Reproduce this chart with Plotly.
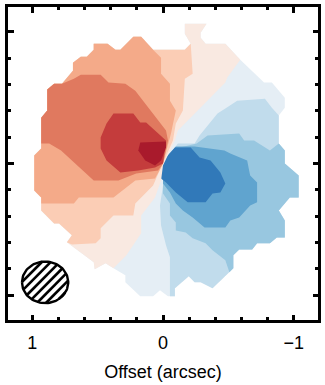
import numpy as np
import plotly.graph_objects as go

# Outer edge of the mapped emission, offsets in arcsec (clockwise from the top)
outline_x = [-0.167,-0.333,-0.288,-0.288,-0.326,-0.477,-0.591,-0.773,-0.833,-0.932,-0.932,-0.886,-0.886,-0.932,-0.932,-1.038,-1.038,-0.970,-0.886,-0.932,-0.932,-0.871,-0.818,-0.720,-0.682,-0.583,-0.538,-0.538,-0.379,-0.288,-0.242,-0.197,-0.091,-0.091,-0.038,0.023,0.076,0.174,0.288,0.288,0.379,0.439,0.523,0.530,0.735,0.697,0.795,0.833,0.932,0.932,0.985,0.985,0.932,0.932,0.886,0.886,0.833,0.773,0.689,0.689,0.629,0.583,0.530,0.530,0.424,0.364,0.326,0.227,0.167,0.076,-0.167,-0.212,-0.167]
outline_y = [1.061,1.061,0.992,0.955,0.909,0.909,0.788,0.614,0.614,0.5,0.424,0.364,0.152,0.098,0,-0.091,-0.258,-0.258,-0.356,-0.432,-0.561,-0.561,-0.606,-0.606,-0.652,-0.652,-0.697,-0.795,-0.947,-0.902,-0.902,-0.856,-0.947,-1.008,-1.008,-0.962,-1.008,-1.008,-0.902,-0.848,-0.795,-0.758,-0.803,-0.75,-0.598,-0.545,-0.455,-0.455,-0.356,-0.258,-0.205,0.061,0.114,0.348,0.402,0.561,0.606,0.606,0.705,0.765,0.811,0.811,0.864,0.909,0.909,0.864,0.864,0.962,0.962,0.864,0.864,0.909,0.985]

# Contour edges inside the map, offsets in arcsec
b1_x = [-0.053,-0.053,-0.023,0.015,0.023,0,0,-0.114,-0.242,-0.280,-0.417,-0.477,-0.568,-0.780,-0.833]
b1_y = [-1.008,-0.712,-0.621,-0.470,-0.318,-0.167,0,0.152,0.152,0.212,0.379,0.417,0.477,0.492,0.424]
b2_x = [-0.508,-0.477,-0.379,-0.326,-0.227,-0.174,-0.098,-0.098,-0.053,-0.053,0,0,-0.129,-0.258,-0.341,-0.583,-0.621,-0.697,-0.818]
b2_y = [-0.826,-0.735,-0.659,-0.606,-0.568,-0.523,-0.508,-0.447,-0.394,-0.303,-0.227,0,0.121,0.152,0.212,0.227,0.174,0.174,0.098]
b3_x = [0,-0.098,-0.242,-0.470,-0.515,-0.644,-0.659,-0.667,-0.720,-0.720,-0.667,-0.583,-0.515,-0.477,-0.318,-0.227,-0.152,-0.098,-0.053,0]
b3_y = [0,0.129,0.129,0.098,0.076,0.023,-0.053,-0.091,-0.144,-0.295,-0.318,-0.409,-0.432,-0.485,-0.485,-0.409,-0.356,-0.303,-0.220,-0.152]
b4_x = [0,-0.091,-0.212,-0.280,-0.364,-0.439,-0.477,-0.439,-0.379,-0.326,-0.189,-0.098,-0.023,0.015,0.015]
b4_y = [0.023,0.121,0.121,0.045,0.023,-0.068,-0.152,-0.220,-0.227,-0.295,-0.295,-0.220,-0.144,-0.114,-0.053]
r0_x = [-0.492,-0.477,-0.114,-0.091,0,0.015,0.061,0.167,0.167,0.280]
r0_y = [0.652,0.614,0.25,0.174,-0.015,-0.129,-0.258,-0.394,-0.530,-0.697]
r1_x = [-0.227,-0.167,-0.152,-0.098,-0.076,0,0.023,0.076,0.212,0.227,0.379,0.477,0.477,0.515,0.697]
r1_y = [0.682,0.644,0.402,0.303,0.174,0,-0.053,-0.167,-0.303,-0.394,-0.394,-0.492,-0.568,-0.606,-0.614]
r2_x = [0.015,0.015,-0.053,-0.053,-0.098,-0.061,0,0.015,0.061,0.212,0.379,0.644,0.682,0.932]
r2_y = [0.803,0.682,0.606,0.477,0.402,0.227,0,-0.030,-0.114,-0.129,-0.258,-0.258,-0.303,-0.303]
r3_x = [0.682,0.629,0.477,0.417,0.288,0.212,-0.023,-0.038,0,0.038,0.205,0.341,0.530,0.697,0.780,0.871,0.932]
r3_y = [0.644,0.674,0.674,0.614,0.606,0.553,0.25,0.174,0,-0.053,-0.076,-0.129,-0.129,0.023,0.098,0.152,0.152]
r4_x = [0.379,0.227,0.174,0.129,-0.023,0,0.061,0.189,0.326,0.432,0.477,0.477,0.432]
r4_y = [0.379,0.379,0.311,0.311,0.174,0,-0.030,-0.053,-0.068,0.023,0.114,0.197,0.303]
r5_x = [0.174,-0.023,-0.023,0.015,0.061,0.136,0.189]
r5_y = [0.159,0.167,0.121,0.023,-0.015,0.023,0.098]

# Contour colours
colour_b0 = "#e5eef5"
colour_b1 = "#c1dcec"
colour_b2 = "#98c7e0"
colour_b3 = "#60a4cf"
colour_b4 = "#3179b9"
colour_r0 = "#f9e9e1"
colour_r1 = "#fbcdb5"
colour_r2 = "#f4aa89"
colour_r3 = "#e0795f"
colour_r4 = "#c43c3c"
colour_r5 = "#a91a2c"

# Synthesised beam
beam_x, beam_y = 0.902, -0.902
beam_major, beam_minor = 0.177, 0.158

x_ticks = [1, 0, -1]
x_labels = ["1", "0", "\u22121"]


def edge(first, last, xs, ys):
    """Part of the outer edge joined to an inner contour edge."""
    if first <= last:
        ox = outline_x[first:last + 1]
        oy = outline_y[first:last + 1]
    else:
        ox = outline_x[first:] + outline_x[:last + 1]
        oy = outline_y[first:] + outline_y[:last + 1]
    return ox + xs, oy + ys


fig = go.Figure()


def region(xs, ys, colour):
    fig.add_trace(go.Scatter(x=xs, y=ys, mode="lines", fill="toself",
                             fillcolor=colour, line=dict(width=0, color=colour),
                             hoverinfo="skip", showlegend=False))


region(outline_x, outline_y, colour_b0)
region(*edge(11, 33, b1_x, b1_y), colour_b1)
region(*edge(12, 27, b2_x, b2_y), colour_b2)
region(b3_x, b3_y, colour_b3)
region(b4_x, b4_y, colour_b4)
region(*edge(40, 6, r0_x, r0_y), colour_r0)
region(*edge(44, 71, r1_x, r1_y), colour_r1)
region(*edge(49, 69, r2_x, r2_y), colour_r2)
region(*edge(53, 57, r3_x, r3_y), colour_r3)
region(r4_x, r4_y, colour_r4)
region(r5_x, r5_y, colour_r5)

# Beam outline and its hatching (chords of the ellipse)
t = np.linspace(0, 2 * np.pi, 90)
ex = beam_x + beam_major * np.cos(t)
ey = beam_y + beam_minor * np.sin(t)
hx, hy = [], []
for c in np.arange(-0.30, 0.301, 0.0685):
    s = np.linspace(-0.3, 0.3, 601)
    px, py = beam_x - s, beam_y + s + c
    inside = ((px - beam_x) / beam_major) ** 2 + ((py - beam_y) / beam_minor) ** 2 <= 1
    if inside.any():
        hx += [px[inside][0], px[inside][-1], None]
        hy += [py[inside][0], py[inside][-1], None]
fig.add_trace(go.Scatter(x=ex, y=ey, mode="lines", fill="toself", fillcolor="white",
                         line=dict(width=0), hoverinfo="skip", showlegend=False))
fig.add_trace(go.Scatter(x=hx, y=hy, mode="lines", line=dict(color="black", width=2.6),
                         hoverinfo="skip", showlegend=False))
fig.add_trace(go.Scatter(x=ex, y=ey, mode="lines", line=dict(color="black", width=2.4),
                         hoverinfo="skip", showlegend=False))

fig.update_xaxes(range=[1.186, -1.186], tickvals=x_ticks, ticktext=x_labels,
                 ticks="inside", ticklen=5.5, tickwidth=3, tickcolor="black",
                 mirror="allticks", showline=True, linecolor="black", linewidth=3,
                 showgrid=False, zeroline=False, ticklabelstandoff=4,
                 tickfont=dict(family="Liberation Sans", size=18, color="black"),
                 title=dict(text="Offset (arcsec)", standoff=14,
                            font=dict(family="Liberation Sans", size=18, color="black")),
                 minor=dict(dtick=0.2, ticks="inside", ticklen=3, tickwidth=2.5,
                            tickcolor="black", showgrid=False, tick0=0))
fig.update_yaxes(range=[-1.188, 1.188], tickvals=[-1, 0, 1], showticklabels=False,
                 ticks="inside", ticklen=5.5, tickwidth=3, tickcolor="black",
                 mirror="allticks", showline=True, linecolor="black", linewidth=3,
                 showgrid=False, zeroline=False,
                 minor=dict(dtick=0.2, ticks="inside", ticklen=3, tickwidth=2.5,
                            tickcolor="black", showgrid=False, tick0=0))
fig.update_layout(width=325, height=385, margin=dict(l=8, r=4, t=6.5, b=65),
                  plot_bgcolor="white", paper_bgcolor="white", showlegend=False)
fig.write_html("out.html", config=dict(displayModeBar=False),
               post_script="document.body.style.margin='0';document.body.style.overflow='hidden';")
